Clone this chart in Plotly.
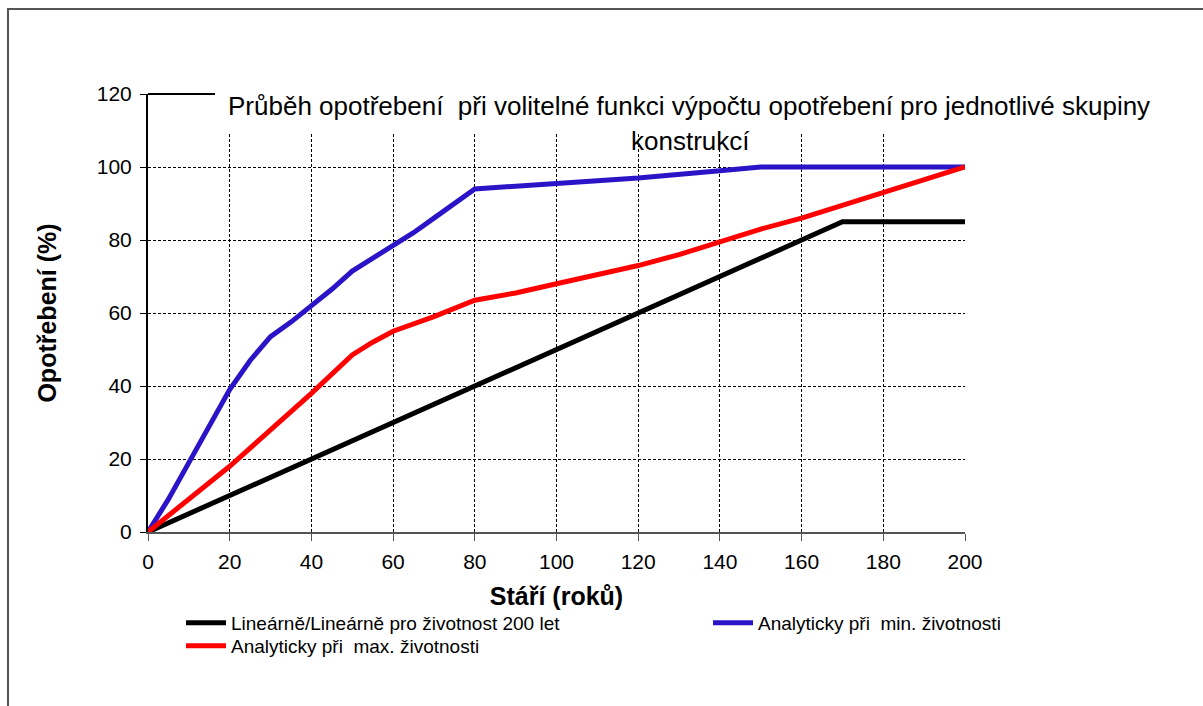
import plotly.graph_objects as go

# ---- data ----
lin_x = [0, 170, 200]
lin_y = [0, 85, 85]

min_x = [0, 5, 10, 15, 20, 25, 30, 35, 40, 45, 50, 55, 60, 65, 70, 75, 80, 100, 120, 140, 150, 200]
min_y = [0, 9, 19, 29, 39, 47, 53.5, 57.5, 62, 66.5, 71.5, 75, 78.5, 82, 86, 90, 94, 95.5, 97, 99, 100, 100]

max_x = [0, 10, 20, 30, 40, 50, 55, 60, 70, 80, 90, 100, 110, 120, 130, 140, 150, 160, 170, 180, 190, 200]
max_y = [0, 9, 18, 28, 38, 48.5, 52, 55, 59, 63.5, 65.5, 68, 70.5, 73, 76, 79.5, 83, 86, 89.5, 93, 96.5, 100]

names = ["Lineárně/Lineárně pro životnost 200 let",
         "Analyticky při  min. životnosti",
         "Analyticky při  max. životnosti"]
colors = ["#000000", "#2B14C8", "#FF0000"]

title_lines = ["Průběh opotřebení  při volitelné funkci výpočtu opotřebení pro jednotlivé skupiny",
               "konstrukcí"]
x_title = "Stáří (roků)"
y_title = "Opotřebení (%)"
x_ticks = list(range(0, 201, 20))
y_ticks = list(range(0, 121, 20))

NARROW = "Liberation Sans Narrow, Arial Narrow, Liberation Sans, Arial, sans-serif"
SANS = "Liberation Sans, Arial, sans-serif"

W, H = 1203, 706
L, R, T, B = 148, 965, 94, 532
pw, ph = R - L, B - T

def px_x(p):
    return (p - L) / pw

def px_y(p):
    return (B - p) / ph

fig = go.Figure()
for xs, ys, nm, col, lg in [(lin_x, lin_y, names[0], colors[0], "legend"),
                            (min_x, min_y, names[1], colors[1], "legend2"),
                            (max_x, max_y, names[2], colors[2], "legend3")]:
    fig.add_trace(go.Scatter(x=xs, y=ys, mode="lines", name=nm, legend=lg,
                             line=dict(color=col, width=5), hoverinfo="skip"))

leg_font = dict(family=NARROW, size=19, color="black")
leg_common = dict(xanchor="left", yanchor="middle", font=leg_font, bgcolor="rgba(0,0,0,0)",
                  itemwidth=40, borderwidth=0)

fig.update_layout(
    width=W, height=H,
    margin=dict(l=L, r=W - R, t=T, b=H - B, pad=0),
    paper_bgcolor="white", plot_bgcolor="white",
    showlegend=True,
    legend=dict(x=px_x(181), y=px_y(623), **leg_common),
    legend2=dict(x=px_x(708), y=px_y(623), **leg_common),
    legend3=dict(x=px_x(181), y=px_y(646), **leg_common),
    font=dict(family=SANS, color="black"),
)

fig.update_xaxes(range=[0, 200], tickvals=x_ticks, ticktext=[str(v) for v in x_ticks],
                 showgrid=True, gridcolor="black", gridwidth=1, griddash="3px,2px",
                 showline=True, linecolor="#555555", linewidth=2,
                 ticks="outside", ticklen=7, tickcolor="#555555", tickwidth=1,
                 ticklabelstandoff=3,
                 tickfont=dict(family=SANS, size=21), zeroline=False,
                 title=dict(text="<b>" + x_title + "</b>", font=dict(family=SANS, size=25), standoff=15))
fig.update_yaxes(range=[0, 120], tickvals=y_ticks, ticktext=[str(v) for v in y_ticks],
                 showgrid=True, gridcolor="black", gridwidth=1, griddash="3px,2px",
                 showline=True, linecolor="black", linewidth=2,
                 ticks="outside", ticklen=6, tickcolor="black", tickwidth=1,
                 ticklabelstandoff=4,
                 tickfont=dict(family=SANS, size=21), zeroline=False,
                 title=dict(text="<b>" + y_title + "</b>", font=dict(family=SANS, size=25), standoff=33))

shapes = [
    dict(type="line", xref="paper", yref="paper", x0=0, x1=1, y0=1, y1=1,
         line=dict(color="black", width=2), layer="above"),
    dict(type="rect", xref="paper", yref="paper", x0=px_x(215), x1=px_x(1165), y0=px_y(133), y1=px_y(70),
         fillcolor="white", line=dict(width=0), layer="above"),
    dict(type="rect", xref="paper", yref="paper", x0=px_x(8), x1=px_x(1230), y0=px_y(740), y1=px_y(9),
         fillcolor="rgba(0,0,0,0)", line=dict(color="#555555", width=2), layer="above"),
]
fig.update_layout(shapes=shapes)

fig.add_annotation(text=title_lines[0], xref="paper", yref="paper", x=px_x(689), y=px_y(106),
                   xanchor="center", yanchor="middle", showarrow=False,
                   font=dict(family=NARROW, size=26, color="black"))
fig.add_annotation(text=title_lines[1], xref="paper", yref="paper", x=px_x(690), y=px_y(141),
                   xanchor="center", yanchor="middle", showarrow=False,
                   font=dict(family=NARROW, size=26, color="black"))

fig.write_html("out.html", config={"displayModeBar": False},
               post_script="document.body.style.margin='0';document.body.style.overflow='hidden';")
